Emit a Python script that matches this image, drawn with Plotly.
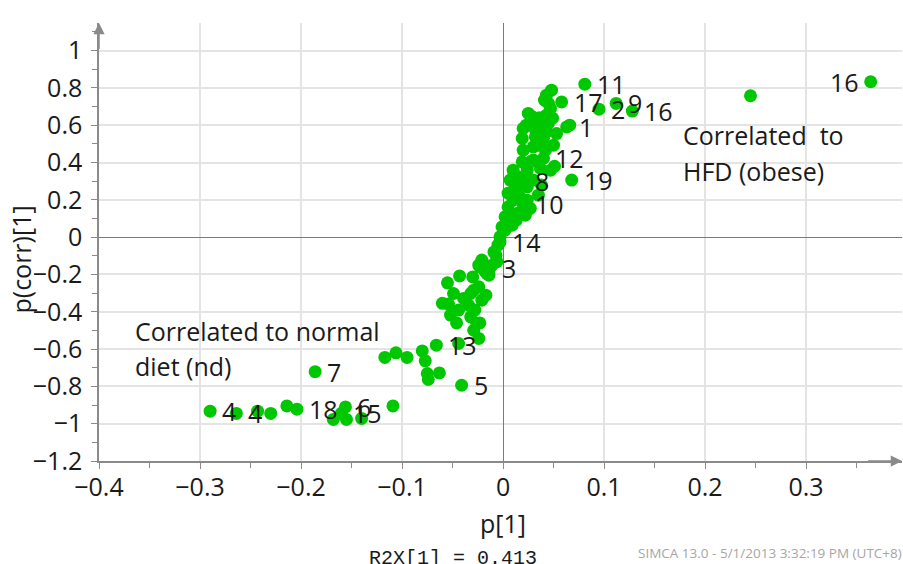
import plotly.graph_objects as go

# Loadings p[1] versus p(corr)[1] for each variable
p1 = [
    -0.290, -0.264, -0.243, -0.230, -0.214, -0.204, -0.186, -0.168, -0.160, -0.156,
    -0.155, -0.140, -0.109, -0.117, -0.106, -0.095, -0.080, -0.077, -0.066, -0.075,
    -0.074, -0.063, -0.041, -0.044, -0.043, -0.055, -0.049, -0.060, -0.054, -0.044,
    -0.046, -0.052, -0.032, -0.023, -0.029, -0.024, -0.030, -0.024, -0.032, -0.039,
    -0.017, -0.021, -0.024, -0.014, -0.006, -0.029, -0.034, -0.028, -0.026, -0.021,
    -0.023, -0.016, -0.011, -0.009, -0.005, -0.003, -0.001, 0.005, 0.002, 0.005,
    0.010, 0.005, 0.024, 0.027, 0.035, -0.007, -0.013, -0.018, -0.003, 0.048,
    0.043, 0.045, 0.047, 0.058, 0.063, 0.066, 0.025, 0.029, 0.020, 0.035,
    0.045, 0.043, 0.019, 0.032, 0.040, 0.020, 0.030, 0.042, 0.050, 0.019,
    0.027, 0.040, 0.051, 0.010, 0.024, 0.037, 0.047, 0.015, 0.030, 0.007,
    0.012, 0.024, 0.038, 0.068, 0.020, 0.009, 0.015, 0.013, 0.017, 0.022,
    0.030, 0.035, 0.023, 0.032, 0.049, 0.043, 0.081, 0.095, 0.112, 0.128,
    0.245, 0.364, 0.007, 0.002, 0.013, 0.020, 0.053, 0.041, 0.036,
]
pcorr1 = [
    -0.933, -0.945, -0.933, -0.945, -0.905, -0.922, -0.721, -0.977, -0.944, -0.910,
    -0.977, -0.972, -0.905, -0.645, -0.620, -0.645, -0.610, -0.663, -0.579, -0.731,
    -0.763, -0.728, -0.794, -0.570, -0.208, -0.245, -0.302, -0.355, -0.359, -0.391,
    -0.460, -0.418, -0.427, -0.460, -0.499, -0.543, -0.213, -0.266, -0.302, -0.329,
    -0.311, -0.338, -0.150, -0.204, -0.132, -0.284, -0.365, -0.391, -0.461, -0.123,
    -0.159, -0.195, -0.150, -0.079, -0.043, 0.002, 0.055, 0.073, 0.109, 0.162,
    0.198, 0.236, 0.198, 0.154, 0.225, -0.097, -0.166, -0.182, -0.027, 0.788,
    0.761, 0.717, 0.690, 0.725, 0.591, 0.600, 0.663, 0.645, 0.583, 0.610,
    0.610, 0.565, 0.529, 0.538, 0.529, 0.466, 0.484, 0.466, 0.493, 0.404,
    0.404, 0.422, 0.380, 0.359, 0.359, 0.368, 0.359, 0.323, 0.306, 0.306,
    0.270, 0.270, 0.279, 0.306, 0.177, 0.064, 0.129, 0.252, 0.214, 0.118,
    0.413, 0.493, 0.600, 0.574, 0.638, 0.654, 0.820, 0.686, 0.717, 0.676,
    0.758, 0.833, 0.118, 0.038, 0.091, 0.300, 0.555, 0.735, 0.640,
]

# Variable IDs shown next to selected points
label_text = ["4", "4", "18", "6", "15", "7", "13", "5", "3", "14", "10", "8",
              "19", "12", "1", "17", "11", "2", "9", "16", "16"]
label_idx = [0, 1, 5, 9, 8, 6, 18, 22, 66, 68, 104, 125,
             103, 91, 74, 73, 116, 117, 118, 119, 121]
label_side = ["r"] * 20 + ["l"]

# Region captions, one entry per text line
caption_lines = ["Correlated to normal", "diet (nd)", "Correlated  to", "HFD (obese)"]
caption_x = [-0.366, -0.366, 0.176, 0.176]
caption_y = [-0.505, -0.692, 0.548, 0.354]

x_ticks = [-0.4, -0.3, -0.2, -0.1, 0, 0.1, 0.2, 0.3]
y_ticks = [-1.2, -1, -0.8, -0.6, -0.4, -0.2, 0, 0.2, 0.4, 0.6, 0.8, 1]

X_RANGE = [-0.4, 0.395]
Y_RANGE = [-1.2, 1.148]
AXIS_GREY = "#8a8a8a"
TEXT = "#1a1a1a"
FONT = "Open Sans"
FS = 25

fig = go.Figure()
fig.add_trace(go.Scatter(
    x=p1, y=pcorr1, mode="markers",
    marker=dict(size=13, color="#00c800", line=dict(width=0)),
    hoverinfo="x+y", showlegend=False,
))

annotations = []
for t, i, side in zip(label_text, label_idx, label_side):
    annotations.append(dict(
        x=p1[i], y=pcorr1[i], text=t, showarrow=False,
        xanchor="left" if side == "r" else "right", yanchor="middle",
        xshift=10 if side == "r" else -10,
        font=dict(family=FONT, size=FS, color=TEXT),
    ))

for t, cx, cy in zip(caption_lines, caption_x, caption_y):
    annotations.append(dict(
        x=cx, y=cy, text=t, showarrow=False, xanchor="left", yanchor="middle",
        font=dict(family=FONT, size=FS, color=TEXT),
    ))

# Axis titles and footer
annotations += [
    dict(x=0.0, y=-1.2, text="p[1]", showarrow=False, xanchor="center",
         yanchor="middle", yshift=-62, font=dict(family=FONT, size=FS, color=TEXT)),
    dict(x=-0.4, y=-0.12, text="p(corr)[1]", showarrow=False, textangle=-90,
         xanchor="center", yanchor="middle", xshift=-78,
         font=dict(family=FONT, size=FS, color=TEXT)),
    dict(x=-0.05, y=-1.2, text="R2X[1] = 0.413", showarrow=False, xanchor="center",
         yanchor="middle", yshift=-97,
         font=dict(family="Liberation Mono", size=20, color=TEXT)),
    dict(x=1.0, y=0, xref="paper", yref="paper", text="SIMCA 13.0 - 5/1/2013 3:32:19 PM (UTC+8)",
         showarrow=False, xanchor="right", yanchor="middle", yshift=-92, xshift=2,
         font=dict(family=FONT, size=13.5, color="#a6a6a6")),
]

# Arrow heads at the ends of both axes
annotations += [
    dict(x=-0.4, y=Y_RANGE[1], ax=-0.4, ay=1.0, axref="x", ayref="y",
         showarrow=True, arrowhead=2, arrowsize=1.5, arrowwidth=1.5,
         arrowcolor=AXIS_GREY, text=""),
    dict(x=X_RANGE[1], y=-1.2, ax=0.36, ay=-1.2, axref="x", ayref="y",
         showarrow=True, arrowhead=2, arrowsize=1.5, arrowwidth=1.5,
         arrowcolor=AXIS_GREY, text=""),
]

common_axis = dict(
    showline=True, linecolor=AXIS_GREY, linewidth=1.5,
    showgrid=True, gridcolor="#e4e4e4", gridwidth=1.5,
    zeroline=True, zerolinecolor="#7a7a7a", zerolinewidth=1.2,
    ticks="outside", ticklen=6, tickwidth=1.3, tickcolor=AXIS_GREY,
    tickfont=dict(family=FONT, size=FS, color=TEXT),
    minor=dict(ticks="outside", ticklen=5, tickwidth=1.2, tickcolor=AXIS_GREY, showgrid=False),
    fixedrange=True,
)

fig.update_layout(
    width=903, height=564,
    margin=dict(l=99, r=1, t=23, b=103),
    paper_bgcolor="white", plot_bgcolor="white",
    xaxis=dict(range=X_RANGE, tickvals=x_ticks, minor_dtick=0.05, minor_tick0=0,
               ticklabelstandoff=-3, **common_axis),
    yaxis=dict(range=Y_RANGE, tickvals=y_ticks, minor_dtick=0.1, minor_tick0=0,
               ticklabelstandoff=4, **common_axis),
    annotations=annotations,
)

fig.write_html("out.html")
